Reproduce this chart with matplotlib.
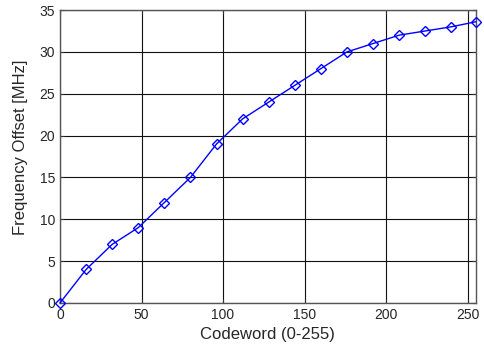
import matplotlib
matplotlib.use('Agg')
import matplotlib.pyplot as plt

codeword = [0, 16, 32, 48, 64, 80, 96, 112, 128, 144, 160, 176, 192, 208, 224, 240, 255]
freq_offset = [0, 4, 7, 9, 12, 15, 19, 22, 24, 26, 28, 30, 31, 32, 32.5, 33, 33.6]

plt.rcParams['font.family'] = 'Liberation Sans'
plt.rcParams['font.size'] = 10

fig = plt.figure(figsize=(4.84, 3.47), dpi=100)
ax = fig.add_axes([0.124, 0.127, 0.859, 0.844])

ax.plot(codeword, freq_offset, '-', color='#0000ff', lw=1.0,
        marker='D', markersize=5.5, markerfacecolor='none',
        markeredgecolor='#0000ff', markeredgewidth=1.0, clip_on=False, zorder=3)

ax.set_xlim(0, 255)
ax.set_ylim(0, 35)
ax.set_xticks(range(0, 251, 50))
ax.set_yticks(range(0, 36, 5))
ax.grid(True, color='#111111', lw=0.8, ls='-')
ax.tick_params(direction='in', top=True, right=True, length=3, labelsize=10,
               color='#333333', labelcolor='#262626')
for sp in ax.spines.values():
    sp.set_color('#555555')
    sp.set_linewidth(1.0)

ax.set_xlabel('Codeword (0-255)', fontsize=12, color='#262626', labelpad=4)
ax.set_ylabel('Frequency Offset [MHz]', fontsize=12, color='#262626')
ax.yaxis.set_label_coords(-0.078, 0.53)

fig.savefig('out.png', dpi=100)
